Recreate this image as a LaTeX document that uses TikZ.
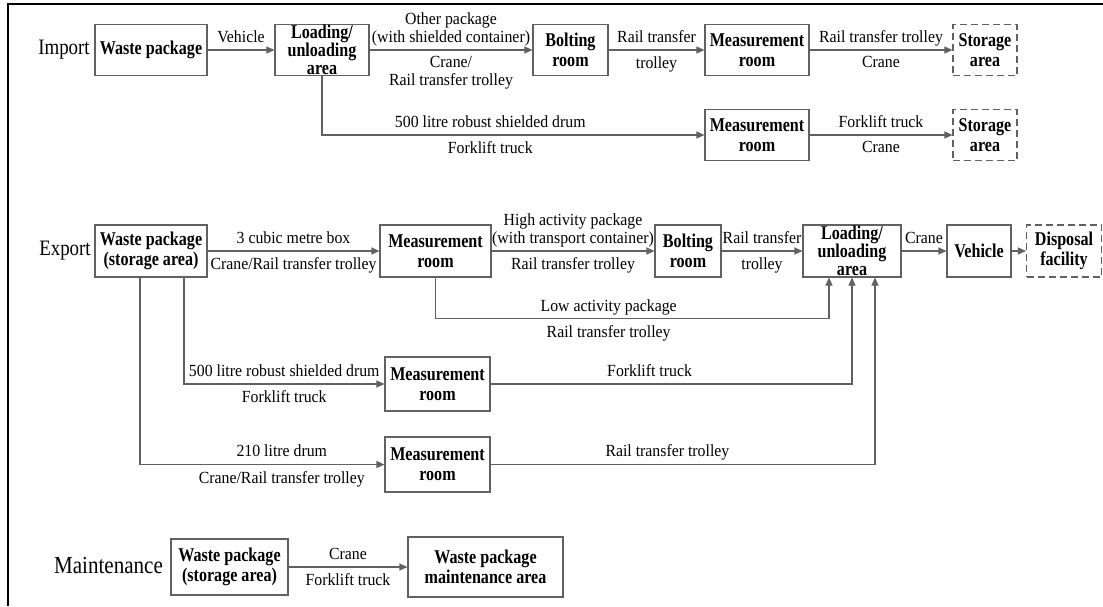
\documentclass[tikz,border=0pt]{standalone}
\usepackage{fontspec}
\setmainfont[FakeStretch=0.93]{Liberation Serif}
\newfontfamily\boxfont[FakeStretch=0.825]{Liberation Serif}
\newfontfamily\sidefont[FakeStretch=0.86]{Liberation Serif}
\usetikzlibrary{arrows.meta}
\colorlet{linegray}{black!62}

\begin{document}
\begin{tikzpicture}[x=1pt, y=-1pt,
  box/.style={draw=linegray, line width=1.1pt, align=center, inner sep=0pt,
    minimum height=51pt, font=\boxfont\bfseries\fontsize{19.5}{20}\selectfont},
  lubox/.style={box, font=\boxfont\bfseries\fontsize{19.5}{18}\selectfont},
  dbox/.style={box, dash pattern=on 7pt off 4pt},
  lbl/.style={font=\fontsize{17}{18}\selectfont, align=center, inner sep=3pt},
  lbla/.style={lbl, above, text depth=4pt},
  lblb/.style={lbl, below, yshift=-3pt},
  side/.style={font=\sidefont\fontsize{22}{24}\selectfont},
  arr/.style={draw=linegray, line width=1.1pt, -{Triangle[length=8pt, width=7pt]}}]
\useasboundingbox (0,0) rectangle (1103,606);
\draw[line width=2pt] (8,606) -- (8,4) -- (1103,4);

% import
\node[side] (imp) at (64,50) {Import};
\node[box, minimum width=112pt] (wp1) at (151,50) {Waste package};
\node[lubox, minimum width=94pt] (lu1) at (322,50) {Loading/\\unloading\\area};
\node[box, minimum width=75pt] (bo1) at (570.5,50) {Bolting\\room};
\node[box, minimum width=104pt] (mr1) at (757,50) {Measurement\\room};
\node[dbox, minimum width=64pt] (sa1) at (985,50) {Storage\\area};
\node[box, minimum width=104pt] (mr2) at (757,135) {Measurement\\room};
\node[dbox, minimum width=64pt] (sa2) at (985,135) {Storage\\area};

\draw[arr] (wp1) -- (lu1) node[lbla, midway] {Vehicle};
\draw[arr] (lu1) -- (bo1)
  node[lbla, midway] {Other package\\(with shielded container)}
  node[lblb, midway] {Crane/\\Rail transfer trolley};
\draw[arr] (bo1) -- (mr1) node[lbla, midway] {Rail transfer} node[lblb, midway] {trolley};
\draw[arr] (mr1) -- (sa1) node[lbla, midway] {Rail transfer trolley} node[lblb, midway] {Crane};
\draw[arr] (lu1.south) |- (mr2.west)
  node[lbla, pos=.72] {500 litre robust shielded drum}
  node[lblb, pos=.72] {Forklift truck};
\draw[arr] (mr2) -- (sa2) node[lbla, midway] {Forklift truck} node[lblb, midway] {Crane};

% export
\node[side] (exp) at (65,251) {Export};
\node[box, minimum width=112pt, minimum height=52pt] (wp2) at (151,251) {Waste package\\(storage area)};
\node[box, minimum width=111pt, minimum height=52pt] (mr3) at (435.5,251) {Measurement\\room};
\node[box, minimum width=66pt, minimum height=52pt] (bo2) at (688,251) {Bolting\\room};
\node[lubox, minimum width=98pt, minimum height=52pt] (lu2) at (852,251) {Loading/\\unloading\\area};
\node[box, minimum width=64pt, minimum height=52pt] (ve) at (979,251) {Vehicle};
\node[dbox, minimum width=75pt, minimum height=52pt] (df) at (1064,251) {Disposal\\facility};
\node[box, minimum width=105pt, minimum height=54pt] (mr4) at (437.5,384) {Measurement\\room};
\node[box, minimum width=105pt, minimum height=55pt] (mr5) at (437.5,464.5) {Measurement\\room};

\draw[arr] (wp2) -- (mr3)
  node[lbla, midway] {3 cubic metre box}
  node[lblb, midway] {Crane/Rail transfer trolley};
\draw[arr] (mr3) -- (bo2)
  node[lbla, midway] {High activity package\\(with transport container)}
  node[lblb, midway] {Rail transfer trolley};
\draw[arr] (bo2) -- (lu2) node[lbla, midway] {Rail transfer} node[lblb, midway] {trolley};
\draw[arr] (lu2) -- (ve) node[lbla, midway] {Crane};
\draw[arr] (ve) -- (df);
\draw[arr] (mr3.south) -- ++(0,41) -| ([xshift=-23pt]lu2.south)
  node[lbla, pos=.22] {Low activity package}
  node[lblb, pos=.22] {Rail transfer trolley};
\draw[arr] ([xshift=33pt]wp2.south) |- (mr4.west)
  node[lbla, pos=.75] {500 litre robust shielded drum}
  node[lblb, pos=.75] {Forklift truck};
\draw[arr] (mr4.east) -| (lu2.south) node[lbla, pos=.22] {Forklift truck};
\draw[arr] ([xshift=-11pt]wp2.south) |- (mr5.west)
  node[lbla, pos=.79] {210 litre drum}
  node[lblb, pos=.79] {Crane/Rail transfer trolley};
\draw[arr] (mr5.east) -| ([xshift=23pt]lu2.south) node[lbla, pos=.23] {Rail transfer trolley};

% maintenance
\node[side, font=\sidefont\fontsize{24.5}{26}\selectfont] (mnt) at (108.5,565) {Maintenance};
\node[box, minimum width=117pt, minimum height=56pt] (wp3) at (229.5,567) {Waste package\\(storage area)};
\node[box, minimum width=155pt, minimum height=60pt] (wm) at (485.5,567) {Waste package\\maintenance area};
\draw[arr] (wp3) -- (wm) node[lbla, midway] {Crane} node[lblb, midway] {Forklift truck};
\end{tikzpicture}
\end{document}
